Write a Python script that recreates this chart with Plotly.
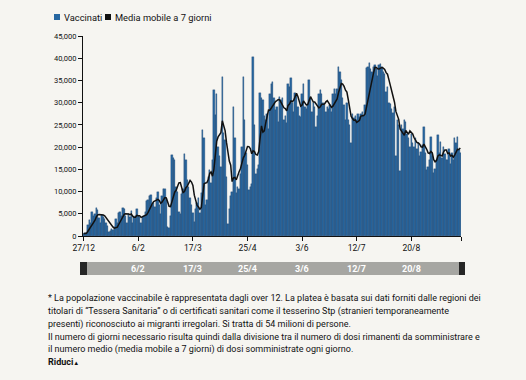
import plotly.graph_objects as go
import pandas as pd

# Daily vaccinations, one value per day starting 27/12
vaccinati = [
    500, 700, 600, 2500, 3500, 3000, 5300, 4500, 5000, 6200,
    5800, 4000, 3000, 4800, 4200, 3800, 3000, 2200, 1000, 1200,
    1500, 1300, 2000, 3900, 3000, 5200, 5500, 4500, 6300, 6000,
    4500, 3000, 5000, 4200, 5600, 3000, 4200, 4500, 6000, 4400,
    4200, 3000, 4300, 4500, 5500, 7800, 8000, 9000, 9300, 7000,
    7500, 6500, 8500, 10000, 7000, 5000, 9000, 10500, 10500, 8000,
    2000, 1800, 4500, 18200, 17500, 17000, 11000, 10000, 5500, 5000,
    9500, 10500, 18500, 17000, 12500, 11000, 8500, 7000, 5100, 3200,
    6000, 7350, 8500, 5100, 9600, 23800, 22000, 7000, 8000, 13300,
    14800, 12000, 17100, 32800, 27200, 32000, 20100, 18000, 15600, 35800,
    23100, 21500, 13300, 2800, 6000, 9000, 10000, 29100, 22000, 9600,
    11100, 10500, 14000, 20000, 35800, 26100, 18600, 16000, 10300, 11000,
    11800, 40300, 25000, 14000, 15000, 16000, 32100, 31000, 30600, 27000,
    26100, 27500, 24000, 32000, 34300, 34700, 31000, 28300, 29000, 25700,
    31300, 30600, 31000, 26000, 27000, 25500, 34300, 33500, 35500, 30000,
    28000, 32100, 31500, 29000, 27000, 26800, 32000, 34300, 29000, 28500,
    29500, 35100, 31000, 28000, 30000, 29000, 24600, 27000, 32000, 32800,
    32000, 30000, 29500, 28000, 29000, 28500, 29500, 28000, 32000, 33000,
    32000, 33000, 38100, 37000, 35000, 31000, 29500, 26100, 30000, 26000,
    25000, 20900, 27500, 26500, 27000, 26000, 27500, 26800, 27500, 28000,
    27000, 29500, 37700, 38000, 38900, 37500, 37000, 38000, 38500, 37500,
    36000, 38500, 38800, 38000, 37000, 36500, 32500, 33500, 30000, 29600,
    28500, 27600, 29000, 18000, 26000, 25000, 14600, 25000, 24000, 26000,
    25700, 23000, 22000, 20000, 23000, 21000, 20000, 22000, 19500, 21000,
    18000, 19000, 20500, 24600, 18600, 14800, 15500, 17000, 22300, 18000,
    14100, 15000, 17000, 22700, 18600, 21200, 17500, 20100, 18500, 17000,
    17100, 19500, 16300, 18600, 17000, 22000, 20900, 22300, 19300, 18600,
]

tick_index = [0, 39, 78, 117, 156, 195, 234]
tick_labels = ["27/12", "6/2", "17/3", "25/4", "3/6", "12/7", "20/8"]
slider_labels = ["6/2", "17/3", "25/4", "3/6", "12/7", "20/8"]
y_ticks = list(range(0, 45001, 5000))
y_labels = [f"{v:,}" for v in y_ticks]

legend_labels = ["Vaccinati", "Media mobile a 7 giorni"]
note_lines = [
    "* La popolazione vaccinabile è rappresentata dagli over 12. La platea è basata sui dati forniti dalle regioni dei",
    "titolari di “Tessera Sanitaria” o di certificati sanitari come il tesserino Stp (stranieri temporaneamente",
    "presenti) riconosciuto ai migranti irregolari. Si tratta di 54 milioni di persone.",
    "Il numero di giorni necessario risulta quindi dalla divisione tra il numero di dosi rimanenti da somministrare e",
    "il numero medio (media mobile a 7 giorni) di dosi somministrate ogni giorno.",
]

BLUE = "#2767a1"
BG = "#f6f5f1"
FONT = "Roboto, sans-serif"

W, H = 526, 380
L, R, T, B = 83, 65, 36, 144
PW, PH = W - L - R, H - T - B


def px(x):
    return (x - L) / PW


def py(y):
    return (H - B - y) / PH


n = len(vaccinati)
idx = list(range(n))
media = pd.Series(vaccinati).rolling(7, min_periods=1).mean()

fig = go.Figure()
fig.add_bar(x=idx, y=vaccinati, marker=dict(color=BLUE, line=dict(color="#163e66", width=0.35)),
            name=legend_labels[0], showlegend=False)
fig.add_scatter(x=idx, y=media, mode="lines", line=dict(color="#111111", width=1.5),
                name=legend_labels[1], showlegend=False)

fig.update_layout(
    width=W, height=H, autosize=False,
    margin=dict(l=L, r=R, t=T, b=B, pad=0),
    paper_bgcolor=BG, plot_bgcolor=BG,
    bargap=0,
    font=dict(family=FONT, color="#111111"),
)
fig.update_xaxes(
    range=[-0.5, n - 0.5],
    tickvals=tick_index + [n - 0.5], ticktext=tick_labels + [""],
    ticks="outside", ticklen=4, tickcolor="#111", tickwidth=1,
    showline=True, linecolor="#111", linewidth=1,
    showgrid=False, zeroline=False,
    tickfont=dict(size=8.5, color="#111"),
)
fig.update_yaxes(
    range=[0, 45000],
    tickvals=y_ticks, ticktext=y_labels,
    ticks="outside", ticklen=4, tickcolor="#111", tickwidth=1,
    showline=True, linecolor="#111", linewidth=1,
    showgrid=False, zeroline=False,
    tickfont=dict(size=7.5, color="#111"),
)

shapes = []
annotations = []
# legend
shapes.append(dict(type="rect", xref="paper", yref="paper", x0=px(54), x1=px(60), y0=py(20), y1=py(14),
                   fillcolor=BLUE, line=dict(width=0)))
annotations.append(dict(xref="paper", yref="paper", x=px(61.5), y=py(17), text=legend_labels[0],
                        showarrow=False, xanchor="left", yanchor="middle", font=dict(size=9.3, color="#111")))
shapes.append(dict(type="rect", xref="paper", yref="paper", x0=px(105), x1=px(111), y0=py(20), y1=py(14),
                   fillcolor="#111111", line=dict(width=0)))
annotations.append(dict(xref="paper", yref="paper", x=px(112.5), y=py(17), text=legend_labels[1],
                        showarrow=False, xanchor="left", yanchor="middle", font=dict(size=9.3, color="#111")))

# slider bar
shapes.append(dict(type="rect", xref="paper", yref="paper", x0=px(80), x1=px(465), y0=py(275), y1=py(262),
                   fillcolor="#a6a6a2", line=dict(width=0)))
shapes.append(dict(type="rect", xref="paper", yref="paper", x0=px(80), x1=px(87), y0=py(275), y1=py(262),
                   fillcolor="#262626", line=dict(width=0)))
shapes.append(dict(type="rect", xref="paper", yref="paper", x0=px(459), x1=px(465), y0=py(275), y1=py(262),
                   fillcolor="#262626", line=dict(width=0)))
for xi, lab in zip(tick_index[1:], slider_labels):
    annotations.append(dict(xref="x", yref="paper", x=xi, y=py(268.5), text=f"<b>{lab}</b>",
                            showarrow=False, xanchor="center", yanchor="middle",
                            font=dict(size=9, color="#ffffff")))

# footnote
line_y = [298, 311, 324, 337, 350]
for yy, txt in zip(line_y, note_lines):
    annotations.append(dict(xref="paper", yref="paper", x=px(46), y=py(yy), text=txt,
                            showarrow=False, xanchor="left", yanchor="middle",
                            font=dict(size=9, color="#111")))
annotations.append(dict(xref="paper", yref="paper", x=px(46), y=py(362),
                        text="<b>Riduci</b><span style='font-size:6px'>▲</span>",
                        showarrow=False, xanchor="left", yanchor="middle",
                        font=dict(size=9, color="#111")))

fig.update_layout(shapes=shapes, annotations=annotations)
fig.write_html("out.html", config={"displayModeBar": False},
               post_script="document.body.style.margin='0';document.body.style.background='" + BG + "';")
